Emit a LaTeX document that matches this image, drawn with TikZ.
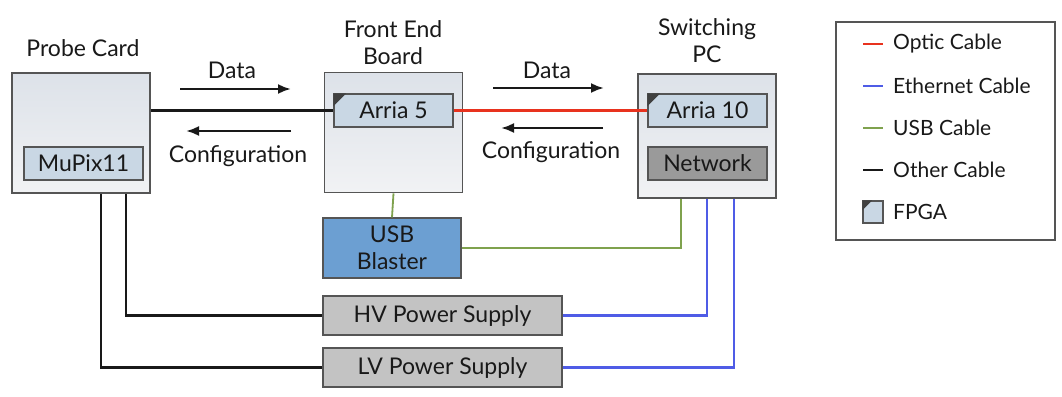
\documentclass[tikz,border=0pt]{standalone}
\usepackage{fontspec}
\setmainfont{Lato}
\usetikzlibrary{arrows.meta}
\definecolor{boardtop}{HTML}{DDE2E9}
\definecolor{boardbot}{HTML}{F1F2F4}
\definecolor{chipfill}{HTML}{C9D7E4}
\definecolor{netfill}{HTML}{9A9A9A}
\definecolor{psfill}{HTML}{C3C3C3}
\definecolor{usbfill}{HTML}{6C9FD2}
\definecolor{opticc}{HTML}{E8321E}
\definecolor{ethc}{HTML}{4F5CE6}
\definecolor{usbc}{HTML}{7FA24E}
\definecolor{edgec}{HTML}{555555}
\tikzset{
  txt/.style={font=\fontsize{23}{27}\selectfont, text=black!90, align=center, inner sep=0pt},
  legtxt/.style={txt, font=\fontsize{21}{25}\selectfont},
  board/.style={draw=edgec, line width=1.6pt, top color=boardtop, bottom color=boardbot, minimum width=138pt, minimum height=120pt, inner sep=0pt},
  chip/.style={txt, draw=edgec, line width=1.4pt, fill=chipfill, minimum width=119pt, minimum height=33pt},
  netbox/.style={chip, fill=netfill},
  psbox/.style={txt, draw=edgec, line width=1.4pt, fill=psfill, minimum width=239pt, minimum height=39pt},
  usbbox/.style={txt, draw=edgec, line width=1.4pt, fill=usbfill, minimum width=138pt, minimum height=60pt},
  other/.style={draw=black!90, line width=2.2pt},
  optic/.style={draw=opticc, line width=2.2pt},
  eth/.style={draw=ethc, line width=2.2pt},
  usbl/.style={draw=usbc, line width=1.8pt},
  flow/.style={draw=black!90, line width=2.4pt, -{Latex[length=13pt,width=10pt]}},
  fpgamark/.style={fill=black!75},
}
\begin{document}
\begin{tikzpicture}[x=1pt,y=-1pt]
\useasboundingbox (0,0) rectangle (1062,396);
\fill[white] (0,0) rectangle (1062,396);

% boards
\node[board] (probe) at (81,133) {};
\node[board] (feb) at (393.5,132.5) {};
\node[board, minimum height=124pt] (spc) at (707,136) {};

\node[txt] (probelbl) at (83,48) {Probe Card};
\node[txt] (feblbl) at (393,43) {Front End\\Board};
\node[txt] (spclbl) at (707,41) {Switching\\PC};

% chips
\node[chip] (mupix) at (83.5,163.5) {MuPix11};
\node[chip] (arria5) at (393.5,110.5) {Arria 5};
\node[chip] (arria10) at (707.5,110.5) {Arria 10};
\node[netbox] (net) at (707.5,163.5) {Network};
\fill[fpgamark] (arria5.north west) -- ++(13,0) -- ++(-13,13) -- cycle;
\fill[fpgamark] (arria10.north west) -- ++(13,0) -- ++(-13,13) -- cycle;

% lower boxes
\node[usbbox] (usb) at (392,248) {USB\\Blaster};
\node[psbox] (hv) at (442.5,315.5) {HV Power Supply};
\node[psbox] (lv) at (442.5,367.5) {LV Power Supply};

% flow arrows and labels
\node[txt] (data1) at (232,70) {Data};
\node[txt] (conf1) at (238,156) {Configuration};
\node[txt] (data2) at (547,70) {Data};
\node[txt] (conf2) at (551,152) {Configuration};
\draw[flow] (180,89) -- (291,89);
\draw[flow] (291,131) -- (186,131);
\draw[flow] (493,88) -- (604,88);
\draw[flow] (603,128) -- (501,128);

% cables
\draw[other] (probe.east |- arria5.west) -- (arria5.west);
\draw[optic] (arria5.east) -- (arria10.west);
\draw[usbl] (feb.south) -- (usb.north);
\draw[usbl] (usb.east) -| ([xshift=44pt]spc.south west);
\draw[eth] ([xshift=70pt]spc.south west) |- (hv.east);
\draw[eth] ([xshift=97pt]spc.south west) |- (lv.east);
\draw[other] ([xshift=115pt]probe.south west) |- (hv.west);
\draw[other] ([xshift=90pt]probe.south west) |- (lv.west);

% legend
\node[draw=edgec, line width=1.6pt, minimum width=219pt, minimum height=218pt, inner sep=0pt] (legend) at (945.5,131) {};
\node[legtxt, anchor=west] (lopt) at (893,44) {Optic Cable};
\node[legtxt, anchor=west] (leth) at (893,86) {Ethernet Cable};
\node[legtxt, anchor=west] (lusb) at (893,128) {USB Cable};
\node[legtxt, anchor=west] (loth) at (893,170) {Other Cable};
\node[legtxt, anchor=west] (lfpga) at (893,212) {FPGA};
\draw[optic] (863,44) -- (883,44);
\draw[eth] (863,86) -- (883,86);
\draw[usbl] (863,128) -- (883,128);
\draw[other] (863,170) -- (883,170);
\node[draw=edgec, line width=1.4pt, fill=chipfill, minimum width=20pt, minimum height=22pt, inner sep=0pt] (fpgaicon) at (873,212) {};
\fill[fpgamark] (fpgaicon.north west) -- ++(10,0) -- ++(-10,10) -- cycle;
\end{tikzpicture}
\end{document}
